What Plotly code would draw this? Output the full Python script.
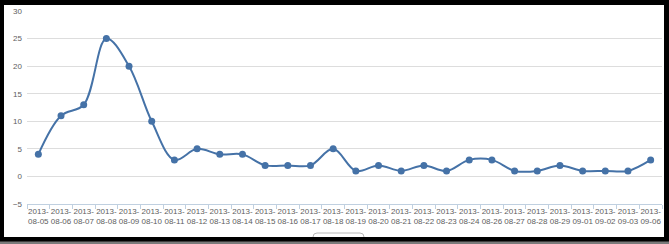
import plotly.graph_objects as go

dates = ["08-05", "08-06", "08-07", "08-08", "08-09", "08-10", "08-11", "08-12",
         "08-13", "08-14", "08-15", "08-16", "08-17", "08-18", "08-19", "08-20",
         "08-21", "08-22", "08-23", "08-24", "08-26", "08-27", "08-28", "08-29",
         "09-01", "09-02", "09-03", "09-06"]
year = "2013"
values = [4, 11, 13, 25, 20, 10, 3, 5, 4, 4, 2, 2, 2, 5, 1, 2, 1, 2, 1, 3,
          3, 1, 1, 2, 1, 1, 1, 3]
y_ticks = [-5, 0, 5, 10, 15, 20, 25, 30]

categories = [f"{year}-<br>{d}" for d in dates]

W, H = 669, 244
ML, MR, MT, MB = 27, 7, 11, 40
PW, PH = W - ML - MR, H - MT - MB


def px(x):
    return (x - ML) / PW


def py(y):
    return (H - MB - y) / PH


fig = go.Figure()
fig.add_trace(go.Scatter(
    x=categories, y=values, mode="lines+markers",
    line=dict(color="#4572A7", width=2, shape="spline", smoothing=1.0),
    marker=dict(color="#4572A7", size=7),
    cliponaxis=False,
))

shapes = [
    dict(type="rect", xref="paper", yref="paper", x0=px(4), x1=px(664),
         y0=py(237), y1=py(5), fillcolor="white", line=dict(width=0), layer="below"),
    dict(type="rect", xref="paper", yref="paper", x0=px(0), x1=px(669),
         y0=py(244), y1=py(241.5), fillcolor="#7a7a7a", line=dict(width=0), layer="below"),
]
# partially hidden button at the bottom
bx0, bx1, by0, by1, r = 313, 364, 233, 237, 4
path = (f"M {px(bx0)} {py(by1)} L {px(bx0)} {py(by0 + r)} "
        f"Q {px(bx0)} {py(by0)} {px(bx0 + r)} {py(by0)} "
        f"L {px(bx1 - r)} {py(by0)} Q {px(bx1)} {py(by0)} {px(bx1)} {py(by0 + r)} "
        f"L {px(bx1)} {py(by1)}")
shapes.append(dict(type="path", xref="paper", yref="paper", path=path,
                   fillcolor="white", line=dict(color="#b8b8b8", width=1), layer="below"))

fig.update_layout(
    width=W, height=H,
    margin=dict(l=ML, r=MR, t=MT, b=MB),
    paper_bgcolor="black",
    plot_bgcolor="rgba(0,0,0,0)",
    showlegend=False,
    shapes=shapes,
    font=dict(family="Liberation Sans, Arial, sans-serif", size=8, color="#606060"),
    xaxis=dict(
        type="category", range=[-0.5, len(dates) - 0.5],
        showgrid=False, showline=True, linecolor="#C0D0E0", linewidth=1,
        ticks="outside", tickson="boundaries", ticklen=4, tickcolor="#C0D0E0",
        tickfont=dict(size=8, color="#606060"), tickangle=0,
        ticklabelstandoff=-1,
        zeroline=False, fixedrange=True,
    ),
    yaxis=dict(
        range=[-5, 30], tickvals=y_ticks, showgrid=True, gridcolor="#DDDDDD",
        gridwidth=1, zeroline=False, showline=False, ticks="",
        tickfont=dict(size=8, color="#606060"), ticklabelstandoff=4,
        fixedrange=True,
    ),
)

fig.write_html("out.html")
